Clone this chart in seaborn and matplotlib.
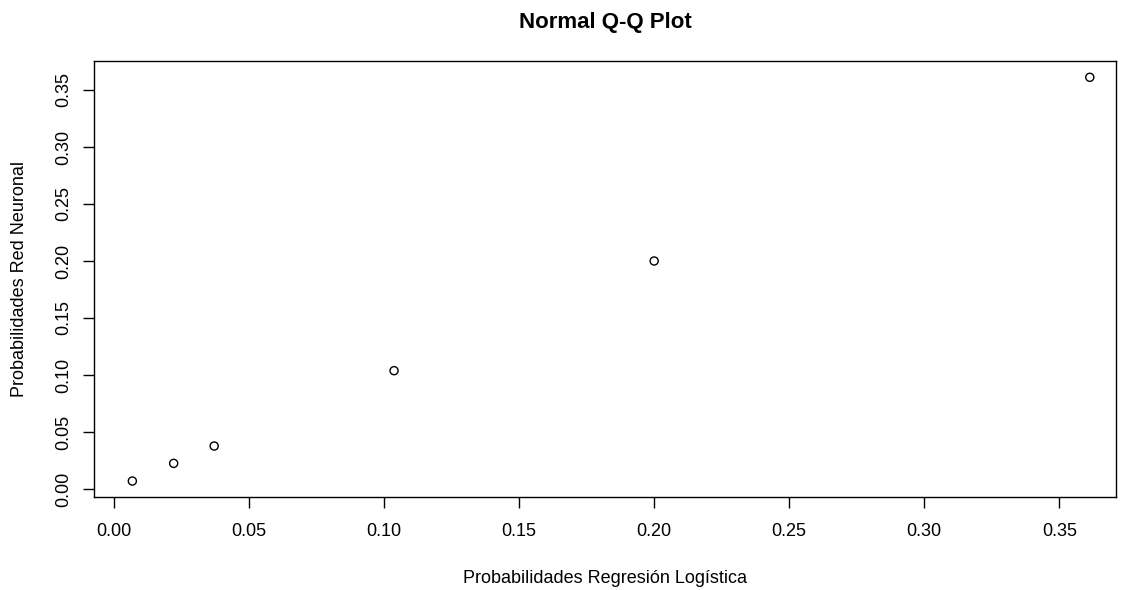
import matplotlib
matplotlib.use("Agg")
import matplotlib.pyplot as plt
import seaborn as sns
import pandas as pd

# probabilidades de cada modelo
prob_logistica = [0.0068, 0.0221, 0.0371, 0.1037, 0.2000, 0.3613]
prob_red = [0.0070, 0.0225, 0.0377, 0.1038, 0.2000, 0.3611]
ticks = [0.00, 0.05, 0.10, 0.15, 0.20, 0.25, 0.30, 0.35]

df = pd.DataFrame({'logistica': prob_logistica, 'red': prob_red})

sns.set_style("ticks")
plt.rcParams['font.family'] = ['Liberation Sans', 'DejaVu Sans']
plt.rcParams['text.color'] = 'black'
plt.rcParams['axes.labelcolor'] = 'black'

fig = plt.figure(figsize=(11.26, 5.9), dpi=100)
ax = fig.add_axes([94/1126, 93/590, (1116-94)/1126, (497-61)/590])

sns.scatterplot(data=df, x='logistica', y='red', ax=ax, marker='o',
                s=34, facecolor='none', edgecolor='black', linewidth=1.0)

ax.set_xlim(-0.0074, 0.371)
ax.set_ylim(-0.007, 0.3754)
ax.set_xticks(ticks)
ax.set_yticks(ticks)
ax.set_xticklabels([f'{t:.2f}' for t in ticks])
ax.set_yticklabels([f'{t:.2f}' for t in ticks], rotation=90, va='center')

for side in ['top', 'right', 'left', 'bottom']:
    ax.spines[side].set_visible(True)
    ax.spines[side].set_color('black')
    ax.spines[side].set_linewidth(1.0)

ax.tick_params(axis='x', length=8, width=1, pad=11, labelsize=13, colors='black')
ax.tick_params(axis='y', length=8, width=1, pad=8, labelsize=13, colors='black')

ax.set_xlabel('Probabilidades Regresión Logística', fontsize=13, labelpad=21)
ax.set_ylabel('Probabilidades Red Neuronal', fontsize=13, labelpad=19)
ax.set_title('Normal Q-Q Plot', fontsize=16, fontweight='bold', pad=24, color='black')

fig.savefig('out.png', dpi=100)
